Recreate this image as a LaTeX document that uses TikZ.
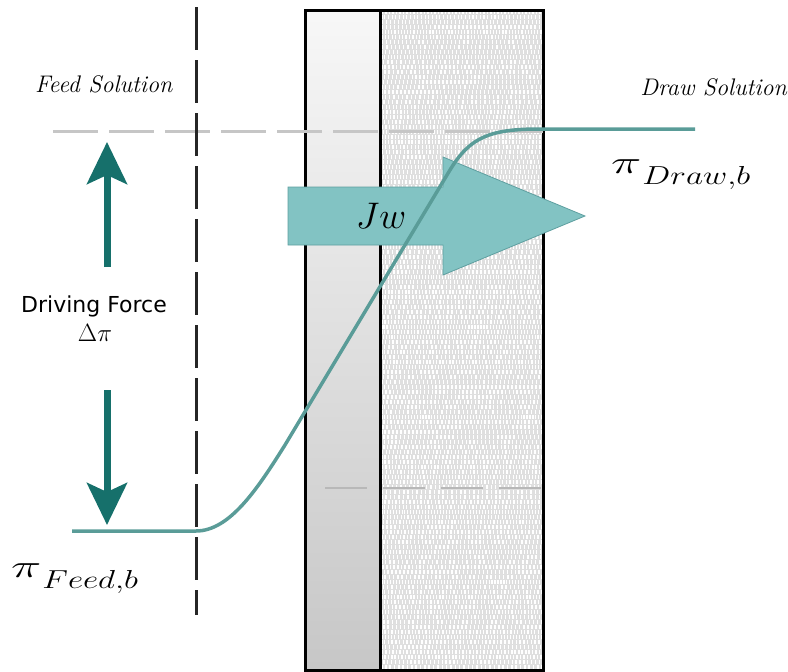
\documentclass[tikz,border=0pt]{standalone}
\usepackage{fix-cm}
\usepackage{graphicx}
\usepackage{fontspec}
\newfontfamily\labelsans{DejaVu Sans}
\usetikzlibrary{arrows.meta}
\definecolor{curveteal}{HTML}{5A9C98}
\definecolor{forceteal}{HTML}{16706B}
\definecolor{fluxfill}{HTML}{82C3C3}
\definecolor{fluxedge}{HTML}{5E9FA0}
\definecolor{guidegray}{HTML}{C6C6C6}
\definecolor{levelgray}{HTML}{B8B8B8}
\definecolor{supportgray}{HTML}{DFDFDF}
% osmotic pressure label: wide pi with a lowered, stretched subscript
\newcommand\osmolabel[1]{%
  {\fontsize{32}{32}\selectfont\scalebox{1.6}[1]{$\pi$}}\kern1pt
  \lower11pt\hbox{\fontsize{26}{26}\selectfont\scalebox{1.28}[1]{$#1$}}}
\tikzset{
  wall/.style={draw=black, line width=3pt},
  guide/.style={guidegray, line width=3pt, dash pattern=on 45pt off 11pt},
  planeline/.style={black!85, line width=3pt, dash pattern=on 43pt off 10pt},
  profile/.style={curveteal, line width=3.5pt},
  force/.style={forceteal, line width=7pt,
    -{Stealth[length=42pt, width=40pt, inset=9pt]}},
  sollabel/.style={inner sep=0pt, font=\fontsize{24}{28}\selectfont\itshape},
  osmo/.style={inner sep=0pt},
}
\begin{document}
\begin{tikzpicture}[x=1pt, y=-1pt]
\useasboundingbox (0,0) rectangle (788,672);

% active layer (left) and porous support (right)
\shade[top color=white!97!black, bottom color=black!22] (305,10) rectangle (380,670);
\fill[supportgray] (380,10) rectangle (543,670);
\pgfmathsetseed{4711}
\foreach \r in {0,...,131} {
  \pgfmathsetmacro\yy{12+5*\r}
  \pgfmathsetmacro\ph{rnd*4}
  \pgfmathsetmacro\gap{1.8+rnd*1.2}
  \pgfmathsetmacro\tick{1.0+rnd*0.6}
  \draw[white, line width=3.2pt, dash pattern=on \tick pt off \gap pt, dash phase=\ph pt]
    (381.5,\yy) -- (541.5,\yy);
}
\draw[wall] (305,10) rectangle (543,670);
\draw[wall] (380,10) -- (380,670);

% pressure levels
\coordinate (hiL) at (53,131);
\coordinate (hiR) at (543,131);
\coordinate (loL) at (325,488);
\coordinate (loR) at (543,488);
\draw[guide] (hiL) -- (hiR);
\draw[levelgray, line width=2.5pt, dash pattern=on 42pt off 16pt] (loL) -- (loR);

% boundary layer plane on the feed side
\coordinate (planeT) at (196,7);
\coordinate (planeB) at (196,615);
\draw[planeline] (planeT) -- (planeB);

% water flux arrow
\fill[fluxfill, draw=fluxedge, line width=0.8pt]
  (288,187) -- (443,187) -- (443,157) -- (585,216) -- (443,275) -- (443,245) -- (288,245) -- cycle;

% osmotic pressure profile across the membrane
\coordinate (feedS) at (72,531);
\coordinate (feedE) at (196,531);
\coordinate (drawS) at (540,129);
\coordinate (drawE) at (695,129);
\draw[profile] (feedS) -- (feedE)
  .. controls (230,531) and (258,488) .. (285,445)
  -- (450,170)
  .. controls (470,137) and (490,129) .. (drawS) -- (drawE);

\node[inner sep=0pt, font=\fontsize{37}{40}\selectfont, anchor=base] (jw) at (381,228) {$Jw$};

% driving force arrows
\coordinate (upS) at (107,267);
\coordinate (upE) at (107,142);
\coordinate (dnS) at (107,390);
\coordinate (dnE) at (107,525);
\draw[force] (upS) -- (upE);
\draw[force] (dnS) -- (dnE);

\node[inner sep=0pt, font=\labelsans\fontsize{22}{26}\selectfont, anchor=base] (df) at (94,312) {Driving Force};
\node[inner sep=0pt, font=\fontsize{25}{28}\selectfont, anchor=base] (dpi) at (95,341) {$\Delta\pi$};

\node[sollabel, anchor=base west] (feedsol) at (35,92) {Feed Solution};
\node[sollabel, anchor=base east] (drawsol) at (787,95) {Draw Solution};

\node[osmo, anchor=base west] (pidraw) at (611,173) {\osmolabel{Draw{,}b}};
\node[osmo, anchor=base west] (pifeed) at (11,577) {\osmolabel{Feed{,}b}};
\end{tikzpicture}
\end{document}
